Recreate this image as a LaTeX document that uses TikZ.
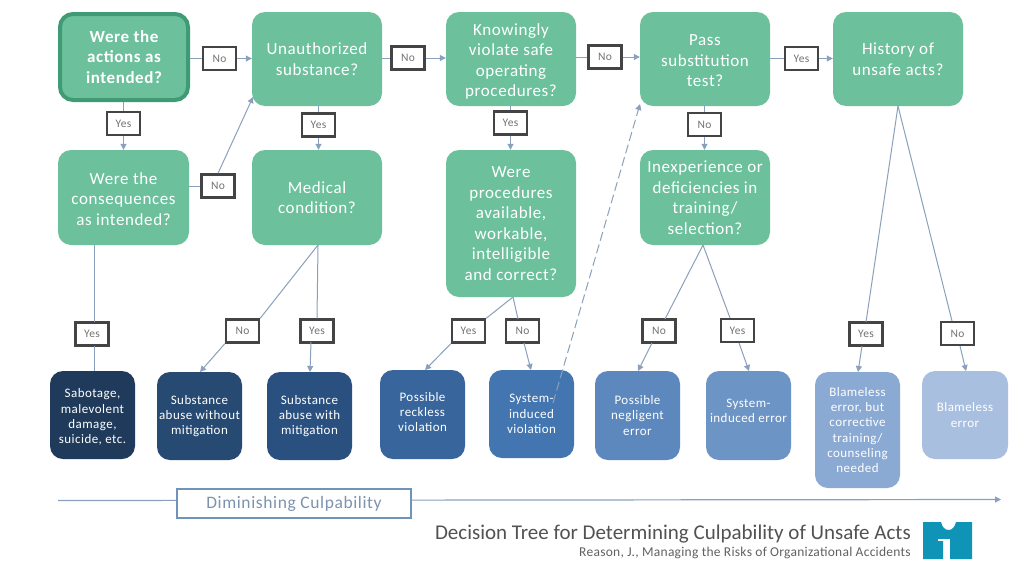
\documentclass[tikz,border=0pt]{standalone}
\usepackage{fontspec}
\setmainfont{Carlito}[LetterSpace=3.5]
\newfontfamily\ttlfont{Carlito}
\newfontfamily\subfont{Carlito}[LetterSpace=2]
\usetikzlibrary{arrows.meta}
\definecolor{grn}{HTML}{6CC19C}
\definecolor{grnd}{HTML}{3F9A76}
\definecolor{lnc}{HTML}{8AA0BC}
\definecolor{lab}{HTML}{444444}
\definecolor{da}{HTML}{1F3A5A}
\definecolor{db}{HTML}{264A72}
\definecolor{dc}{HTML}{2A5080}
\definecolor{dd}{HTML}{38659B}
\definecolor{de}{HTML}{4375B0}
\definecolor{df}{HTML}{5C88BD}
\definecolor{dg}{HTML}{6C94C4}
\definecolor{dh}{HTML}{8AA9D3}
\definecolor{di}{HTML}{A9BFE0}
\definecolor{barc}{HTML}{7093BB}
\definecolor{logoc}{HTML}{0F94B8}
\tikzset{
  x=1pt,y=-1pt,
  bx/.style={rounded corners=13pt,align=center,inner sep=0pt,text=white,draw=none,font=\fontsize{17}{20.5}\selectfont},
  qbox/.style={bx,fill=grn},
  rbox/.style={bx,font=\fontsize{13}{15.3}\selectfont},
  tag/.style={draw=lab,line width=2.3pt,fill=white,text=black!55,inner sep=0pt,minimum width=33pt,minimum height=23pt,font=\fontsize{11.5}{12}\selectfont},
  ln/.style={draw=lnc,line width=1pt},
  ar/.style={ln,-{Triangle[length=6pt,width=6pt]}},
}
\newcommand{\bxat}[7]{%
  \node[#6,minimum width={(#4-#2)*1pt},minimum height={(#5-#3)*1pt}] (#1) at ({(#2+#4)/2},{(#3+#5)/2}) {#7};}
\newcommand{\tagat}[4]{\node[tag] (#1) at (#2,#3) {#4};}
\begin{document}
\begin{tikzpicture}
\useasboundingbox (0,0) rectangle (1024,576);
\fill[white] (0,0) rectangle (1024,576);
% question boxes
\bxat{qa}{60}{14}{188}{100}{qbox,draw=grnd,line width=4pt,font=\fontsize{17}{20.5}\selectfont\bfseries}{Were the\\actions as\\intended?}
\bxat{qb}{252}{12}{382}{106}{qbox}{Unauthorized\\substance?}
\bxat{qc}{446}{12}{576}{106}{qbox}{\rule{0pt}{17pt}Knowingly\\violate safe\\operating\\procedures?}
\bxat{qd}{640}{12}{770}{106}{qbox}{\rule{0pt}{15pt}Pass\\substitution\\test?}
\bxat{qe}{833}{12}{963}{106}{qbox}{History of\\unsafe acts?}
\bxat{ca}{58}{150}{189}{245}{qbox}{\rule{0pt}{15pt}Were the\\consequences\\as intended?}
\bxat{cb}{252}{150}{382}{245}{qbox}{Medical\\condition?}
\bxat{cc}{446}{150}{576}{297}{qbox}{Were\\procedures\\available,\\workable,\\intelligible\\and correct?}
\bxat{cd}{640}{150}{770}{245}{qbox}{Inexperience or\\deficiencies in\\training/\\selection?}
% result boxes
\bxat{ra}{50}{371}{135}{459}{rbox,fill=da}{\rule{0pt}{13pt}Sabotage,\\malevolent\\damage,\\suicide, etc.}
\bxat{rb}{157}{372}{242}{460}{rbox,fill=db}{Substance\\abuse without\\mitigation}
\bxat{rc}{267}{372}{352}{460}{rbox,fill=dc}{Substance\\abuse with\\mitigation}
\bxat{rd}{380}{370}{465}{459}{rbox,fill=dd}{Possible\\reckless\\violation\rule[-5pt]{0pt}{0pt}}
\bxat{re}{489}{370}{574}{458}{rbox,fill=de}{System-\\induced\\violation}
\bxat{rf}{595}{371}{680}{460}{rbox,fill=df}{Possible\\negligent\\error}
\bxat{rg}{706}{371}{791}{460}{rbox,fill=dg}{System-\\induced error\rule[-10pt]{0pt}{0pt}}
\bxat{rh}{815}{372}{900}{488}{rbox,fill=dh}{Blameless\\error, but\\corrective\\training/\\counseling\\needed}
\bxat{ri}{922}{371}{1008}{459}{rbox,fill=di}{Blameless\\error}
% tags
\tagat{t1}{219.5}{58.5}{No}
\tagat{t2}{408}{58}{No}
\tagat{t3}{605}{57}{No}
\tagat{t4}{801.5}{58.5}{Yes}
\tagat{t5}{123.5}{123.5}{Yes}
\tagat{t6}{218}{186}{No}
\tagat{t7}{318.5}{125}{Yes}
\tagat{t8}{510.5}{123}{Yes}
\tagat{t9}{704.5}{124.5}{No}
\tagat{t10}{92}{334}{Yes}
\tagat{t11}{242.5}{331}{No}
\tagat{t12}{317}{331}{Yes}
\tagat{t13}{468.5}{331}{Yes}
\tagat{t14}{522.5}{331}{No}
\tagat{t15}{659}{331}{No}
\tagat{t16}{737.5}{330.5}{Yes}
\tagat{t17}{866}{334}{Yes}
\tagat{t18}{957.5}{333.5}{No}
% connector anchors
\coordinate (fb) at (318,245);
\coordinate (fc) at (513,297);
\coordinate (fd) at (703,245);
\coordinate (fe) at (898,106);
% connectors
\draw[ln] (qa.east |- t1) -- (t1);
\draw[ar] (t1) -- (qb.west |- t1);
\draw[ln] (qb.east |- t2) -- (t2);
\draw[ar] (t2) -- (qc.west |- t2);
\draw[ln] (qc.east |- t3) -- (t3);
\draw[ar] (t3) -- (qd.west |- t3);
\draw[ln] (qd.east |- t4) -- (t4);
\draw[ar] (t4) -- (qe.west |- t4);
\draw[ln] (qa.south -| t5) -- (t5);
\draw[ar] (t5) -- (ca.north -| t5);
\draw[ln] (ca.east |- t6) -- (t6);
\draw[ar] (t6.north) -- (253,97);
\draw[ln] (qb.south -| t7) -- (t7);
\draw[ar] (t7) -- (cb.north -| t7);
\draw[ln] (qc.south -| t8) -- (t8);
\draw[ar] (t8) -- (cc.north -| t8);
\draw[ln] (qd.south -| t9) -- (t9);
\draw[ar] (t9) -- (cd.north -| t9);
\draw[ln] (94,245) -- (94,322);
\draw[ln] (94,346) -- (94,371);
\draw[ln] (fb) -- (t11.north east);
\draw[ar] (t11.south west) -- (200,372);
\draw[ln] (fb) -- (t12.north);
\draw[ar] (311,342) -- (310,372);
\draw[ln] (fc) -- (t13.north east);
\draw[ar] (t13.south west) -- (425,370);
\draw[ln] (fc) -- (518,319);
\draw[ar] (524,343) -- (531,370);
\draw[ln] (fd) -- (665,319);
\draw[ar] (652,343) -- (638,371);
\draw[ln] (fd) -- (730,318);
\draw[ar] (739,343) -- (749,371);
\draw[ln] (fe) -- (866,322);
\draw[ar] (862,346) -- (858,372);
\draw[ln] (fe) -- (952,321);
\draw[ar] (960,346) -- (966,371);
\draw[ar,dash pattern=on 9pt off 4pt,draw=lnc] (553,403) -- (640,104);
% bottom scale
\draw[ar,line width=1.2pt] (58,500.5) -- (1001,499.5);
\node[draw=barc,line width=2.6pt,fill=white,minimum width=234pt,minimum height=29pt,inner sep=0pt,text={rgb,255:red,125;green,147;blue,173},font=\fontsize{17.5}{18}\selectfont] (bar) at (294,503.5) {\raisebox{-2pt}{Diminishing Culpability}};
% titles
\node[anchor=east,inner sep=0pt,text=black!68,font=\ttlfont\fontsize{21}{22}\selectfont] (ttl) at (911,534) {Decision Tree for Determining Culpability of Unsafe Acts};
\node[anchor=east,inner sep=0pt,text=black!62,font=\subfont\fontsize{13.5}{14}\selectfont] (sub) at (911,553) {Reason, J., Managing the Risks of Organizational Accidents};
% logo
\fill[logoc] (923,522) -- (941,522) .. controls (942,527) and (945,530) .. (948.5,530) .. controls (952,530) and (955,527) .. (956,522) -- (972,522) -- (972,559) -- (950,559) -- (950,540) -- (943,540) -- (943,559) -- (923,559) -- cycle;
\fill[white] (938,538.5) rectangle (950,540.5);
\end{tikzpicture}
\end{document}
